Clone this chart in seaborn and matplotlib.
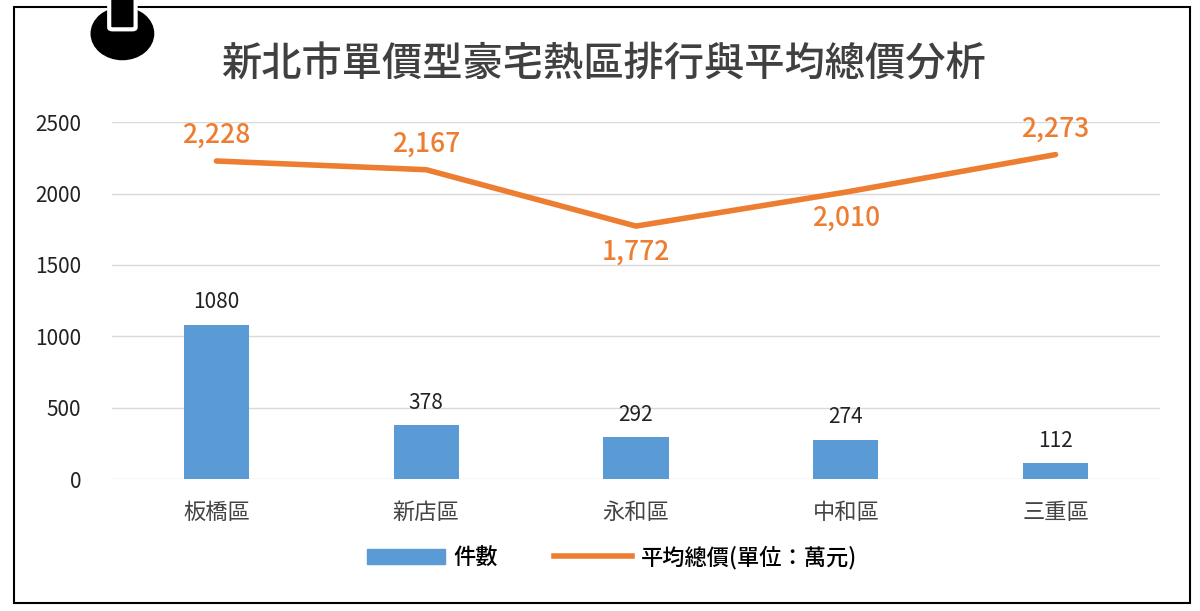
import matplotlib
matplotlib.use("Agg")
import matplotlib.pyplot as plt
import matplotlib.patches as mpatches
from matplotlib.lines import Line2D
from matplotlib import font_manager as fm
import seaborn as sns
import pandas as pd

districts = ["板橋區", "新店區", "永和區", "中和區", "三重區"]
counts = [1080, 378, 292, 274, 112]
avg_price = [2228, 2167, 1772, 2010, 2273]
yticks = [0, 500, 1000, 1500, 2000, 2500]

cjk_name = None
for f in fm.findSystemFonts():
    if "CJK" in f or "cjk" in f.lower():
        try:
            fm.fontManager.addfont(f)
        except Exception:
            pass
names = sorted({f.name for f in fm.fontManager.ttflist if "CJK" in f.name})
for pref in ["Noto Sans CJK TC", "Noto Sans CJK SC", "Noto Sans CJK JP"]:
    if pref in names:
        cjk_name = pref
        break
if cjk_name is None and names:
    cjk_name = names[0]
plt.rcParams["font.family"] = [cjk_name] if cjk_name else ["DejaVu Sans"]
plt.rcParams["font.sans-serif"] = ([cjk_name] if cjk_name else []) + ["DejaVu Sans"]

BLUE = "#5B9BD5"
ORANGE = "#ED7D31"

fig = plt.figure(figsize=(12, 6.11), dpi=100)
ax = fig.add_axes([0.093, 0.216, 0.874, 0.584])
df = pd.DataFrame({"d": districts, "n": counts, "p": avg_price})
sns.barplot(data=df, x="d", y="n", color=BLUE, width=0.31, saturation=1, ax=ax)
ax.plot(range(len(districts)), avg_price, color=ORANGE, lw=4, solid_capstyle="round")

for i, v in enumerate(counts):
    ax.text(i, v + 80, str(v), ha="center", va="bottom", fontsize=15, color="#222222")
offs = [1, 1, -1, -1, 1]
for i, (v, o) in enumerate(zip(avg_price, offs)):
    ax.text(i, v + o * 85, f"{v:,}", ha="center", va="bottom" if o > 0 else "top",
            fontsize=19, color=ORANGE, fontweight="medium")

ax.set_xlim(-0.5, 4.5)
ax.set_ylim(0, 2500)
ax.set_yticks(yticks)
ax.set_yticklabels([str(t) for t in yticks], fontsize=15, color="#222222")
ax.tick_params(axis="x", labelsize=16, colors="#444444", length=0, pad=16)
ax.tick_params(axis="y", length=0, pad=22)
ax.grid(axis="y", color="#D9D9D9", lw=1)
ax.set_axisbelow(True)
for s in ax.spines.values():
    s.set_visible(False)
ax.set_xlabel("")
ax.set_ylabel("")

fig.text(0.503, 0.893, "新北市單價型豪宅熱區排行與平均總價分析", ha="center", va="center",
         fontsize=29, fontweight="medium", color="#404040")

handles = [mpatches.Patch(color=BLUE, label="件數"),
           Line2D([0], [0], color=ORANGE, lw=4, label="平均總價(單位：萬元)")]
fig.legend(handles=handles, loc="center", bbox_to_anchor=(0.51, 0.088), ncol=2,
           frameon=False, handlelength=3.5, columnspacing=2.5, handletextpad=0.4,
           prop={"weight": "medium", "size": 16})

fig.add_artist(mpatches.Rectangle((0.012, 0.013), 0.98, 0.975, transform=fig.transFigure,
                                  fill=False, ec="black", lw=1.5))
fig.add_artist(mpatches.Ellipse((0.102, 0.945), 0.052, 0.085, transform=fig.transFigure,
                                color="black"))
fig.add_artist(mpatches.FancyBboxPatch((0.094, 0.955), 0.016, 0.06, transform=fig.transFigure,
                                       boxstyle="round,pad=0.003", fc="black", ec="white", lw=3))

fig.savefig("out.png", dpi=100)
